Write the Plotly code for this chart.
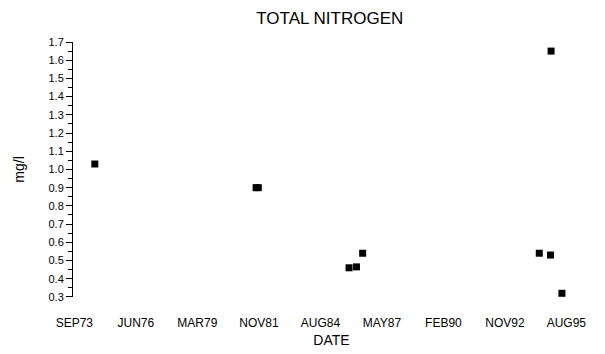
import plotly.graph_objects as go

# sample dates and total nitrogen (mg/l)
dates = ["1974-08-01", "1981-10-15", "1981-11-20", "1985-12-10", "1986-04-10",
         "1986-07-20", "1994-06-10", "1994-12-10", "1994-12-20", "1995-06-15"]
values = [1.03, 0.90, 0.90, 0.46, 0.465, 0.54, 0.54, 0.53, 1.65, 0.32]

tick_dates = ["1973-09-01", "1976-06-01", "1979-03-01", "1981-11-30", "1984-08-30",
              "1987-05-30", "1990-02-27", "1992-11-26", "1995-08-26"]
tick_labels = ["SEP73", "JUN76", "MAR79", "NOV81", "AUG84",
               "MAY87", "FEB90", "NOV92", "AUG95"]

fig = go.Figure()
fig.add_trace(go.Scatter(
    x=dates, y=values, mode="markers",
    marker=dict(symbol="square", size=7, color="black"),
    showlegend=False))

# page body has an 8px margin, so the figure is a little smaller than the window
fig.update_layout(
    width=597, height=346,
    margin=dict(l=65, r=15, t=34, b=47),
    paper_bgcolor="white", plot_bgcolor="white",
    font=dict(family="Liberation Sans, Arial, sans-serif", color="black", size=11),
    title=dict(text="TOTAL NITROGEN", x=0.539, xanchor="center", y=0.971,
               yanchor="middle", font=dict(size=17)),
)
fig.update_xaxes(
    type="date", range=["1973-08-10", "1996-09-15"],
    tickvals=tick_dates, ticktext=tick_labels,
    showline=False, showgrid=False, zeroline=False,
    ticks="", anchor="free", position=0, automargin=False,
    ticklabelstandoff=7,
    tickfont=dict(size=12),
    title=dict(text="DATE", font=dict(size=14), standoff=6))
fig.update_yaxes(
    range=[0.3, 1.7], domain=[0.038, 1], dtick=0.1, tickformat=".1f",
    showline=True, linecolor="black", linewidth=1,
    showgrid=False, zeroline=False, automargin=False,
    ticks="outside", ticklen=6, tickcolor="black",
    minor=dict(dtick=0.05, ticks="outside", ticklen=4, tickcolor="black"),
    tickfont=dict(size=11),
    title=dict(text="mg/l", font=dict(size=14), standoff=20))

fig.write_html("out.html")
